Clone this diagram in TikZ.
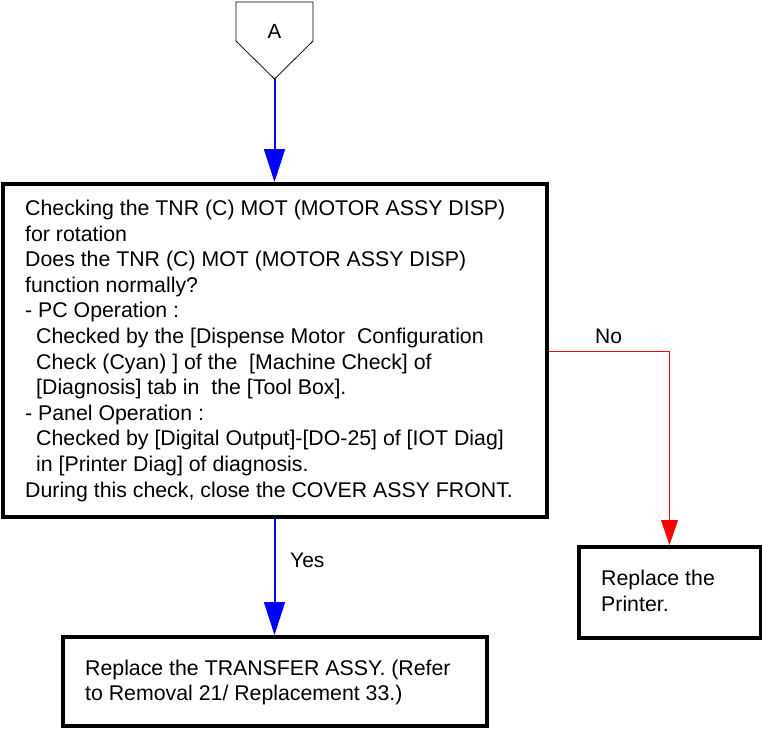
\documentclass[tikz,border=0pt]{standalone}
\usepackage{fontspec}
\setmainfont{Liberation Sans}
\usetikzlibrary{arrows.meta}
\begin{document}
\begin{tikzpicture}[x=1pt,y=-1pt,
  boxnode/.style={draw=black, line width=4pt, rectangle, inner sep=0pt},
  txt/.style={anchor=base west, inner sep=0pt, font=\fontsize{21.3}{25.6}\selectfont},
  lbl/.style={anchor=base west, inner sep=0pt, font=\fontsize{21}{25}\selectfont},
  blueflow/.style={draw=blue, line width=2pt, -{Triangle[width=21pt,length=33pt]}},
  redflow/.style={draw=red, line width=1pt, -{Triangle[width=17pt,length=25pt]}},
]
\useasboundingbox (0,0) rectangle (762,728);

% connector A (off-page pentagon)
\draw[line width=0.75pt, draw=black] (236,2) -- (313,2) -- (313,41) -- (274.5,79) -- (236,41) -- cycle;
\node[anchor=base, inner sep=0pt, font=\fontsize{20.5}{24}\selectfont] (A) at (274.5,38) {A};
\coordinate (tipA) at (274.5,79);

% boxes
\node[boxnode, minimum width=544pt, minimum height=333pt] (main) at (274.5,350.5) {};
\node[boxnode, minimum width=182pt, minimum height=91pt] (printer) at (669.5,592.5) {};
\node[boxnode, minimum width=424pt, minimum height=89pt] (transfer) at (274.5,681.5) {};

% main box text
\node[txt] (l1) at (25,215.5) {Checking the TNR (C) MOT (MOTOR ASSY DISP)};
\node[txt] (l2) at (25,241.1) {for rotation};
\node[txt] (l3) at (25,266.7) {Does the TNR (C) MOT (MOTOR ASSY DISP)};
\node[txt] (l4) at (25,292.3) {function normally?};
\node[txt] (l5) at (25,317.9) {- PC Operation :};
\node[txt] (l6) at (36,343.5) {Checked by the [Dispense Motor~ Configuration};
\node[txt] (l7) at (36,369.1) {Check (Cyan) ] of the~ [Machine Check] of};
\node[txt] (l8) at (36,394.7) {[Diagnosis] tab in~ the [Tool Box].};
\node[txt] (l9) at (25,420.3) {- Panel Operation :};
\node[txt] (l10) at (36,445.9) {Checked by [Digital Output]-[DO-25] of [IOT Diag]};
\node[txt] (l11) at (36,471.5) {in [Printer Diag] of diagnosis.};
\node[txt] (l12) at (25,497.1) {During this check, close the COVER ASSY FRONT.};

% printer box text
\node[txt] (p1) at (601,585) {Replace the};
\node[txt] (p2) at (601,611) {Printer.};

% transfer box text
\node[txt] (t1) at (85,675) {Replace the TRANSFER ASSY. (Refer};
\node[txt] (t2) at (85,700.5) {to Removal 21/ Replacement 33.)};

% connectors
\draw[blueflow] (tipA) -- (tipA |- main.north);
\draw[blueflow] (main.south) -- (transfer.north);
\node[lbl] (yes) at (290,567) {Yes};

\coordinate (nocorner) at (669.5,351);
\draw[redflow] (main.east |- nocorner) -- (nocorner) -- (printer.north);
\node[lbl] (no) at (595,343) {No};
\end{tikzpicture}
\end{document}
